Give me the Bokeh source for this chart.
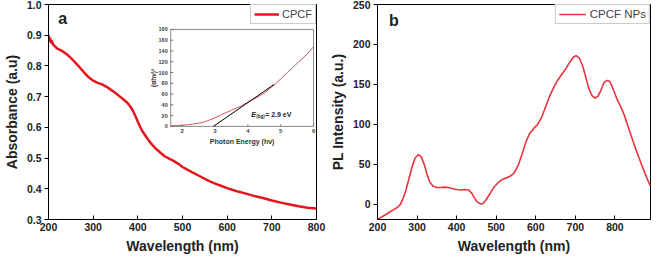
import math
from bokeh.plotting import figure
from bokeh.layouts import row
from bokeh.models import (Range1d, FixedTicker, NumeralTickFormatter, Legend, LegendItem)
from bokeh.core.properties import value
from bokeh.embed import file_html
from bokeh.resources import INLINE

# ---------------- data ----------------
abs_wl = [200, 202, 204, 206, 208, 210, 215, 220, 230, 240, 250, 260, 270, 280, 290, 300, 310, 320,
          330, 340, 350, 360, 370, 375, 380, 385, 390, 395, 400, 405, 410, 420, 430, 440, 450, 460,
          470, 480, 490, 500, 520, 540, 560, 580, 600, 620, 640, 660, 680, 700, 720, 740, 760, 780, 800]
abs_val = [0.900, 0.882, 0.889, 0.876, 0.880, 0.870, 0.863, 0.856, 0.849, 0.839, 0.826, 0.811, 0.795,
           0.778, 0.763, 0.752, 0.745, 0.740, 0.732, 0.722, 0.712, 0.700, 0.688, 0.682, 0.674, 0.664,
           0.651, 0.635, 0.618, 0.602, 0.588, 0.566, 0.547, 0.531, 0.518, 0.506, 0.498, 0.491, 0.482,
           0.471, 0.455, 0.440, 0.425, 0.413, 0.402, 0.393, 0.385, 0.377, 0.370, 0.362, 0.355, 0.349,
           0.343, 0.338, 0.336]

inset_e = [1.65, 2.0, 2.3, 2.6, 2.8, 3.0, 3.2, 3.5, 3.8, 4.0, 4.2, 4.5, 4.8, 5.0, 5.2, 5.5, 5.8, 6.0]
inset_v = [1, 2, 4, 7, 11, 16, 22, 30, 38, 45, 51, 62, 77, 88, 100, 117, 134, 148]
tangent_e = [2.95, 4.8]
tangent_v = [0, 78]

pl_wl = [200, 210, 220, 230, 240, 250, 258, 265, 272, 280, 288, 295, 303, 310, 318, 325, 332, 340,
         350, 360, 370, 380, 390, 400, 410, 420, 430, 438, 445, 452, 460, 467, 475, 485, 495, 505,
         515, 525, 535, 545, 555, 565, 575, 585, 595, 605, 615, 625, 635, 645, 655, 665, 675, 685,
         695, 702, 710, 718, 726, 734, 742, 750, 757, 765, 772, 780, 787, 795, 805, 815, 825, 835,
         845, 855, 865, 875, 885, 890]
pl_val = [-19, -16, -13, -10, -7, -4, 0, 8, 18, 33, 48, 58, 62, 60, 50, 38, 28, 23, 21, 21, 21.5,
          21, 19.5, 18.5, 18, 18.5, 18, 14, 8, 3, 0.5, 1, 6, 14, 22, 27, 31, 33, 35, 39, 48, 62, 78,
          89, 95, 100, 109, 122, 135, 146, 155, 162, 169, 177, 184, 186, 183, 174, 160, 145, 136, 133,
          135, 143, 152, 155, 154, 145, 132, 122, 110, 95, 80, 66, 53, 40, 28, 23]

a_xticks = [200, 300, 400, 500, 600, 700, 800]
a_yticks = [0.3, 0.4, 0.5, 0.6, 0.7, 0.8, 0.9, 1.0]
inset_xticks = [2, 3, 4, 5, 6]
inset_yticks = [0, 20, 40, 60, 80, 100, 120, 140, 160, 180]
b_xticks = [200, 300, 400, 500, 600, 700, 800]
b_yticks = [0, 50, 100, 150, 200, 250]

FONT = "Liberation Sans"


def style_axes(p):
    p.outline_line_color = "black"
    p.outline_line_width = 1
    p.xgrid.visible = False
    p.ygrid.visible = False
    for ax in (p.xaxis[0], p.yaxis[0]):
        ax.axis_line_color = "black"
        ax.major_label_text_font = FONT
        ax.major_label_text_font_style = "bold"
        ax.major_label_text_font_size = "10.5px"
        ax.major_label_text_color = "#222222"
        ax.axis_label_text_font = FONT
        ax.axis_label_text_font_style = "bold"
        ax.axis_label_text_font_size = "14px"
        ax.axis_label_text_color = "#222222"
        ax.minor_tick_line_color = None
        ax.major_label_standoff = 3
        ax.axis_label_standoff = 4
    p.xaxis[0].major_tick_in = 4
    p.xaxis[0].major_tick_out = 0
    p.yaxis[0].major_tick_in = 0
    p.yaxis[0].major_tick_out = 4


# ---------------- panel a ----------------
pa = figure(width=326, height=257, output_backend="svg", toolbar_location=None,
            x_range=Range1d(200, 800), y_range=Range1d(0.3, 1.0),
            min_border_left=46, min_border_right=10, min_border_top=4, min_border_bottom=38)
style_axes(pa)
pa.xaxis.ticker = FixedTicker(ticks=a_xticks)
pa.yaxis.ticker = FixedTicker(ticks=a_yticks)
pa.yaxis.formatter = NumeralTickFormatter(format="0.0")
pa.xaxis.axis_label = "Wavelength (nm)"
pa.yaxis.axis_label = "Absorbance (a.u)"

ra = pa.line(abs_wl, abs_val, line_color="#e3151d", line_width=2.5, line_join="round")

# inset placed via extra ranges (fractions of the main frame)
ix0, ix1 = 1.65, 6.0
iy0, iy1 = 0, 180
fx0, fx1 = 0.456, 0.989
fy0, fy1 = 0.433, 0.884
sx = (ix1 - ix0) / (fx1 - fx0)
sy = (iy1 - iy0) / (fy1 - fy0)
pa.extra_x_ranges = {"ix": Range1d(ix0 - fx0 * sx, ix0 - fx0 * sx + sx)}
pa.extra_y_ranges = {"iy": Range1d(iy0 - fy0 * sy, iy0 - fy0 * sy + sy)}
kw = dict(x_range_name="ix", y_range_name="iy")

pa.quad(left=[ix0], right=[ix1], bottom=[iy0], top=[iy1], fill_color="white",
        line_color="#8a8a8a", line_width=1, **kw)
pa.line(inset_e, inset_v, line_color="#d9545a", line_width=1, **kw)
pa.line(tangent_e, tangent_v, line_color="black", line_width=1, **kw)
# inset ticks
pa.segment(x0=inset_xticks, y0=[iy0] * len(inset_xticks), x1=inset_xticks,
           y1=[iy0 + 4] * len(inset_xticks), line_color="#555555", line_width=0.8, **kw)
pa.segment(x0=[ix0] * len(inset_yticks), y0=inset_yticks, x1=[ix0 + 0.08] * len(inset_yticks),
           y1=inset_yticks, line_color="#555555", line_width=0.8, **kw)
pa.text(x=inset_xticks, y=[iy0] * len(inset_xticks), text=[str(t) for t in inset_xticks],
        text_font=value(FONT), text_font_style="bold", text_font_size="6px", text_color="#444444",
        text_align="center", text_baseline="top", y_offset=3, **kw)
pa.text(x=[ix0] * len(inset_yticks), y=inset_yticks, text=[str(t) for t in inset_yticks],
        text_font=value(FONT), text_font_style="bold", text_font_size="5.5px", text_color="#444444",
        text_align="right", text_baseline="middle", x_offset=-3, **kw)
pa.text(x=[(ix0 + ix1) / 2], y=[iy0], text=["Photon Energy (h\u03bd)"],
        text_font=value(FONT), text_font_style="bold", text_font_size="7px", text_color="#333333",
        text_align="center", text_baseline="top", y_offset=12, **kw)
pa.text(x=[ix0], y=[(iy0 + iy1) / 2], text=["(\u03b1h\u03bd)\u00b2"],
        text_font=value(FONT), text_font_style="bold", text_font_size="6.5px", text_color="#333333",
        text_align="center", text_baseline="bottom", angle=math.pi / 2, x_offset=-14, **kw)
pa.text(x=[4.1], y=[22], text=["E"], text_font=value(FONT), text_font_style="bold italic",
        text_font_size="7px", text_color="#222222", text_baseline="middle", **kw)
pa.text(x=[4.1], y=[22], text=["(bg)"], text_font=value(FONT), text_font_style="bold",
        text_font_size="4.5px", text_color="#222222", text_baseline="middle", x_offset=5, y_offset=2, **kw)
pa.text(x=[4.1], y=[22], text=["= 2.9 eV"], text_font=value(FONT), text_font_style="bold",
        text_font_size="7px", text_color="#222222", text_baseline="middle", x_offset=14, **kw)

pa.text(x=[222], y=[0.954], text=["a"], text_font=value(FONT), text_font_style="bold",
        text_font_size="16px", text_color="#222222", text_baseline="middle")

leg_a = Legend(items=[LegendItem(label="CPCF", renderers=[ra])], location="top_right",
               margin=0, padding=3, spacing=0, glyph_width=25, glyph_height=12, label_standoff=3,
               label_text_font=FONT, label_text_font_size="11px", label_height=12,
               border_line_color="#9a9a9a", border_line_width=1, background_fill_alpha=1)
pa.add_layout(leg_a)

# ---------------- panel b ----------------
pb = figure(width=326, height=257, output_backend="svg", toolbar_location=None,
            x_range=Range1d(200, 890), y_range=Range1d(-19, 250),
            min_border_left=50, min_border_right=2, min_border_top=2, min_border_bottom=38)
style_axes(pb)
pb.xaxis.ticker = FixedTicker(ticks=b_xticks)
pb.yaxis.ticker = FixedTicker(ticks=b_yticks)
pb.xaxis.axis_label = "Wavelength (nm)"
pb.yaxis.axis_label = "PL Intensity (a.u.)"

rb = pb.line(pl_wl, pl_val, line_color="#e8343c", line_width=1.6, line_join="round")
pb.text(x=[229], y=[229.6], text=["b"], text_font=value(FONT), text_font_style="bold",
        text_font_size="16px", text_color="#222222", text_baseline="middle")

leg_b = Legend(items=[LegendItem(label="CPCF NPs", renderers=[rb])], location="top_right",
               margin=0, padding=3, spacing=0, glyph_width=27, glyph_height=12, label_standoff=4,
               label_text_font=FONT, label_text_font_size="11.5px", label_height=12,
               border_line_color="#9a9a9a", border_line_width=1, background_fill_alpha=1)
pb.add_layout(leg_b)

layout = row(pa, pb)
open("out.html", "w").write(file_html(layout, INLINE))
